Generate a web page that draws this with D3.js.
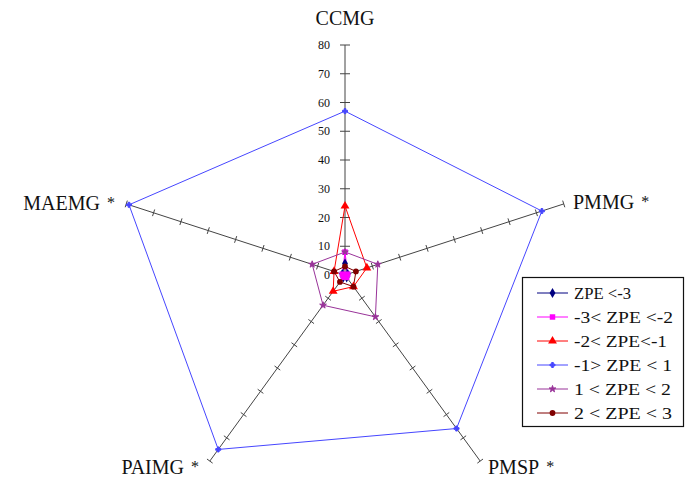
<!DOCTYPE html>
<html>
<head>
<meta charset="utf-8">
<script src="https://cdn.jsdelivr.net/npm/d3@7"></script>
<style>
  body { margin: 0; background: #fff; }
  svg { display: block; }
  text { font-family: "Liberation Serif", "Times New Roman", serif; fill: #111; }
</style>
</head>
<body>
<svg id="chart" width="689" height="482"></svg>
<script>
// Radar axes, clockwise from the top
const axes = ["CCMG", "PMMG *", "PMSP *", "PAIMG *", "MAEMG *"];
const tickValues = [0, 10, 20, 30, 40, 50, 60, 70, 80];

// Series legend labels
const seriesNames = ["ZPE <-3", "-3< ZPE <-2", "-2< ZPE<-1", "-1> ZPE < 1", "1 < ZPE < 2", "2 < ZPE < 3"];

// Series values, one per axis (CCMG, PMMG, PMSP, PAIMG, MAEMG)
const zpeBelowM3 = [4, 1, 1, 1, 1];
const zpeM3toM2  = [8, 1, 1, 1, 1];
const zpeM2toM1  = [24, 8, 5, 7, 4];
const zpeM1to1   = [57, 72, 66, 75, 79];
const zpe1to2    = [8, 12, 18, 13, 12];
const zpe2to3    = [3, 4, 5, 3, 4];

const seriesValues = [zpeBelowM3, zpeM3toM2, zpeM2toM1, zpeM1to1, zpe1to2, zpe2to3];
const seriesColors = ["#000080", "#ff00ff", "#ff0000", "#4646ff", "#993399", "#800000"];
const seriesSymbols = [d3.symbolDiamond, d3.symbolSquare, d3.symbolTriangle, d3.symbolCross, d3.symbolStar, d3.symbolCircle];
const symbolSizes = [30, 30, 34, 14, 14, 26];
const legendTextWidths = [57, 99, 93, 98, 97, 98];

const svg = d3.select("#chart");
const cx = 345, cy = 275;

const r = d3.scaleLinear().domain([0, 80]).range([0, 230]);
const angle = d3.scalePoint().domain(d3.range(axes.length + 1)).range([0, 2 * Math.PI]);

function pt(i, v) {
  const a = angle(i);
  return [cx + r(v) * Math.sin(a), cy - r(v) * Math.cos(a)];
}

// Axis spokes with cross ticks every 10 units
const gAxes = svg.append("g");
axes.forEach((name, i) => {
  const [x1, y1] = pt(i, 0);
  const [x2, y2] = pt(i, 80);
  gAxes.append("line")
    .attr("x1", x1).attr("y1", y1).attr("x2", x2).attr("y2", y2)
    .attr("stroke", "#444").attr("stroke-width", 1);
  const a = angle(i);
  const px = Math.cos(a), py = Math.sin(a);
  tickValues.forEach(t => {
    const [tx, ty] = pt(i, t);
    const h = i === 0 ? 5 : 3.5;
    gAxes.append("line")
      .attr("x1", tx - px * h).attr("y1", ty - py * h)
      .attr("x2", tx + px * h).attr("y2", ty + py * h)
      .attr("stroke", "#444").attr("stroke-width", 1);
  });
});

// Value labels along the CCMG axis
svg.append("g").selectAll("text")
  .data(tickValues)
  .join("text")
  .attr("x", cx - 15)
  .attr("y", d => pt(0, d)[1])
  .attr("dy", "0.35em")
  .attr("text-anchor", "end")
  .style("font-size", "12px")
  .text(d => d);

// Series polygons and markers
const line = d3.line().curve(d3.curveLinearClosed);
seriesValues.forEach((vals, s) => {
  const pts = vals.map((v, i) => pt(i, v));
  svg.append("path")
    .attr("d", line(pts))
    .attr("fill", "none")
    .attr("stroke", seriesColors[s])
    .attr("stroke-width", 1);
});
seriesValues.forEach((vals, s) => {
  const sym = d3.symbol().type(seriesSymbols[s]).size(symbolSizes[s]);
  svg.append("g").selectAll("path")
    .data(vals)
    .join("path")
    .attr("d", sym)
    .attr("transform", (v, i) => { const [x, y] = pt(i, v); return `translate(${x},${y})`; })
    .attr("fill", seriesColors[s])
    .attr("stroke", seriesColors[s])
    .attr("stroke-width", s >= 3 && s <= 4 ? 1 : 0);
});

// Axis names, with the asterisk set smaller and raised
const labelPos = [
  { x: cx, y: 25, anchor: "middle" },
  { x: 573, y: 209, anchor: "start" },
  { x: 488, y: 474, anchor: "start" },
  { x: 199, y: 474, anchor: "end" },
  { x: 115, y: 210, anchor: "end" }
];
svg.append("g").selectAll("text")
  .data(axes)
  .join("text")
  .attr("x", (d, i) => labelPos[i].x)
  .attr("y", (d, i) => labelPos[i].y)
  .attr("text-anchor", (d, i) => labelPos[i].anchor)
  .style("font-size", "20px")
  .each(function (d) {
    const t = d3.select(this);
    const parts = d.split(" *");
    t.append("tspan").text(parts[0]);
    if (parts.length > 1) {
      t.append("tspan").attr("dx", 3).attr("dy", -2).style("font-size", "16px").text(" *");
    }
  });

// Legend
const lg = svg.append("g");
lg.append("rect")
  .attr("x", 522.5).attr("y", 277.5).attr("width", 161).attr("height", 149)
  .attr("fill", "#fff").attr("stroke", "#111").attr("stroke-width", 1.2);
seriesNames.forEach((name, s) => {
  const y = 293 + s * 24;
  lg.append("line")
    .attr("x1", 537).attr("x2", 568).attr("y1", y).attr("y2", y)
    .attr("stroke", seriesColors[s]).attr("stroke-width", 1);
  lg.append("path")
    .attr("d", d3.symbol().type(seriesSymbols[s]).size(symbolSizes[s])())
    .attr("transform", `translate(552.5,${y})`)
    .attr("fill", seriesColors[s])
    .attr("stroke", seriesColors[s])
    .attr("stroke-width", s >= 3 && s <= 4 ? 1 : 0);
  lg.append("text")
    .attr("x", 574).attr("y", y).attr("dy", "0.35em")
    .attr("textLength", legendTextWidths[s])
    .attr("lengthAdjust", "spacingAndGlyphs")
    .style("font-size", "16px")
    .text(name);
});
</script>
</body>
</html>
